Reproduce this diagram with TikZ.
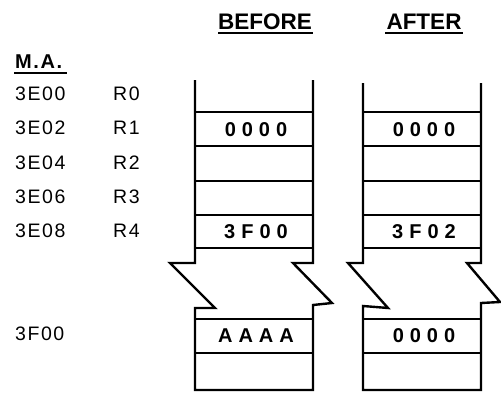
\documentclass[tikz,border=0pt]{standalone}
\usepackage{fontspec}
\setmainfont{Liberation Sans}
\newfontfamily\valfont[LetterSpace=30]{Liberation Sans}
\newfontfamily\lblfont[LetterSpace=8]{Liberation Sans}
\begin{document}
\begin{tikzpicture}[x=1pt,y=-1pt,
  lbl/.style={anchor=west, font=\lblfont\fontsize{19.5}{19.5}\selectfont, inner sep=0pt},
  head/.style={font=\bfseries\fontsize{22.5}{22.5}\selectfont, inner sep=0pt},
  val/.style={font=\valfont\bfseries\fontsize{20}{20}\selectfont, inner sep=0pt},
  col/.style={line width=2.4pt, line join=miter},
  rowline/.style={line width=2.2pt},
  uline/.style={line width=1.8pt}]
\useasboundingbox (0,0) rectangle (501,394);

% headings
\node[head] (hb) at (265,22) {BEFORE};
\node[head] (ha) at (424,22) {AFTER};
\draw[uline] (218,33) -- (313,33);
\draw[uline] (385,33) -- (463,33);

% memory address labels
\node[lbl, font=\lblfont\bfseries\fontsize{20}{20}\selectfont] (ma) at (15,62) {M.A.};
\draw[uline] (14,73) -- (67,73);
\node[lbl] (a0) at (15,94) {3E00};
\node[lbl] (a1) at (15,128) {3E02};
\node[lbl] (a2) at (15,163) {3E04};
\node[lbl] (a3) at (15,197) {3E06};
\node[lbl] (a4) at (15,231) {3E08};
\node[lbl] (a5) at (15,334) {3F00};
\node[lbl] (r0) at (113,94) {R0};
\node[lbl] (r1) at (113,128) {R1};
\node[lbl] (r2) at (113,163) {R2};
\node[lbl] (r3) at (113,197) {R3};
\node[lbl] (r4) at (113,231) {R4};

% BEFORE column
\draw[col] (195,80) -- (195,263) -- (170,263) -- (215,308) -- (195,308) -- (195,390)
  -- (313,390) -- (313,305) -- (332,303) -- (293,263) -- (313,263) -- (313,80);
\foreach \y in {112,146,181,215,248,319,353}
  \draw[rowline] (195,\y) -- (313,\y);

% AFTER column
\draw[col] (363,83) -- (363,263) -- (348,263) -- (388,308) -- (363,306) -- (363,390)
  -- (481,390) -- (481,303) -- (500,302) -- (467,263) -- (481,263) -- (481,83);
\foreach \y in {112,146,181,215,248,319,353}
  \draw[rowline] (363,\y) -- (481,\y);

% contents
\node[val] (b1) at (256,130) {0000};
\node[val] (b4) at (256,232) {3F00};
\node[val] (b5) at (256,336) {AAAA};
\node[val] (f1) at (424,130) {0000};
\node[val] (f4) at (424,232) {3F02};
\node[val] (f5) at (424,336) {0000};
\end{tikzpicture}
\end{document}
